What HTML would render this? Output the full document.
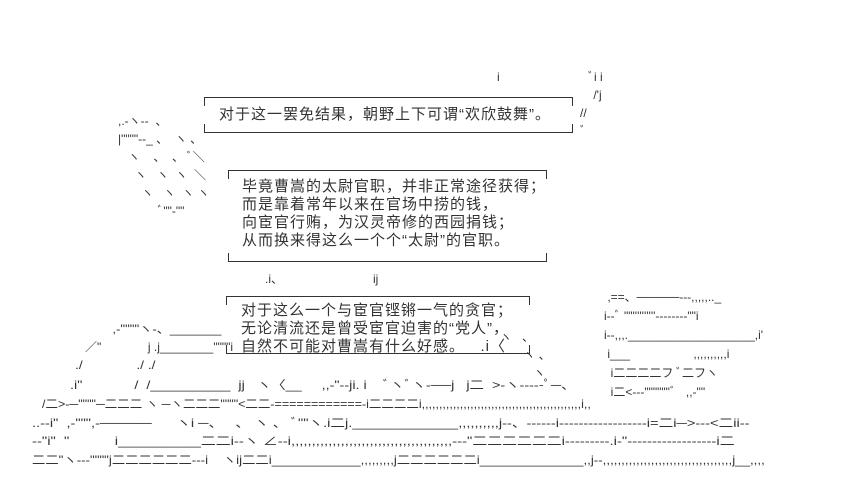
<!DOCTYPE html>
<html><head><meta charset="utf-8"><style>
body{margin:0;width:849px;height:496px;background:#fff;position:relative;overflow:hidden;font-family:"Liberation Sans","WenQuanYi Zen Hei",sans-serif;color:#222}
.b{position:absolute;border-top:1px solid #333;border-bottom:1px solid #333}
.box .tl,.box .tr,.box .bl,.box .br{position:absolute;width:1px;height:8px;background:#333}
.tl{left:0;top:0}.tr{right:0;top:0}.bl{left:0;bottom:0}.br{right:0;bottom:0}
.tx{position:absolute;font-size:15px;line-height:18px;white-space:pre;color:#333;letter-spacing:1px;font-family:"Liberation Sans","WenQuanYi Zen Hei",sans-serif}
.a{position:absolute;font-size:12px;line-height:18px;white-space:pre;color:#333;font-family:"Liberation Sans","Noto Sans CJK JP",sans-serif;transform-origin:0 0}
</style></head><body>
<div class="b box" style="left:204px;top:97px;width:369px;height:34px"><i class="tl"></i><i class="tr"></i><i class="bl"></i><i class="br"></i></div>
<div class="tx" style="left:219px;top:106px">对于这一罢免结果，朝野上下可谓“欢欣鼓舞”。</div>
<div class="b box" style="left:228px;top:170px;width:319px;height:90px"><i class="tl"></i><i class="tr"></i><i class="bl"></i><i class="br"></i></div>
<div class="tx" style="left:242px;top:178px">毕竟曹嵩的太尉官职，并非正常途径获得；
而是靠着常年以来在官场中捞的钱，
向宦官行贿，为汉灵帝修的西园捐钱；
从而换来得这么一个个“太尉”的官职。</div>
<div class="b box" style="left:226px;top:296px;width:304px;height:56px"><i class="tl"></i><i class="tr"></i><i class="bl"></i><i class="br"></i></div>
<div class="tx" style="left:241px;top:302px">对于这么一个与宦官铿锵一气的贪官；
无论清流还是曾受宦官迫害的“党人”，
自然不可能对曹嵩有什么好感。   .i〈</div>
<div class="a" style="left:497px;top:68px">i</div>
<div class="a" style="left:588px;top:68px">ﾞi i</div>
<div class="a" style="left:590px;top:86px"> /'j</div>
<div class="a" style="left:580px;top:104px">//
ﾞ</div>
<div class="a" style="left:118px;top:112px">,.-ヽ--  、
|""""--_ 、  ヽ 、
   ヽ    、  、 ﾞ＼
     ヽ   ヽ  ヽ  ＼
       ヽ   ヽ  ヽ ヽ
            ﾞ""-""</div>
<div class="a" style="left:265px;top:270px">.i、</div>
<div class="a" style="left:373px;top:270px">ij</div>
<div class="a" style="left:500px;top:328px">ヽ   、
       ヽ 、
          ヽ</div>
<div class="a" style="left:105px;top:320px;transform:scaleX(1.1)">  ,-""""ヽ-、_______</div>
<div class="a" style="left:85px;top:338px;transform:scaleX(1.0)">／"              j .j________""""i</div>
<div class="a" style="left:75px;top:356px;transform:scaleX(1.15)">./              ./ ./</div>
<div class="a" style="left:70px;top:376px;transform:scaleX(1.2)">.i"             /  /__________  jj   ヽ〈__     ,,-"--ji. i    ﾞヽﾞヽ-──j   j二  >-ヽ-----ﾟ─、</div>
<div class="a" style="left:42px;top:395px;transform:scaleX(1.04)">/二>-─""""─二二二 ヽ ─ヽ二二二""""<二二-============-i二二二二i,,,,,,,,,,,,,,,,,,,,,,,,,,,,,,,,,,,,,,,,,,,,,,i,,</div>
<div class="a" style="left:32px;top:414px;transform:scaleX(1.22)">..--i"  ,-""",-─────      ヽi ─、   、 ヽ 、 ﾞ""ヽ.i二j._____________,,,,,,,,,,j--、------i------------------i=二i─>---<二ii--</div>
<div class="a" style="left:32px;top:432px;transform:scaleX(1.24)">--"i"  "           i__________二二i--ヽ ∠--i,,,,,,,,,,,,,,,,,,,,,,,,,,,,,,,,,,,,,,,---"二二二二二二i---------.i-"------------------i二</div>
<div class="a" style="left:32px;top:451px;transform:scaleX(1.11)">二二"ヽ---""""j二二二二二二---i    ヽij二二i____________,,,,,,,,,j二二二二二二i______________,,j--,,,,,,,,,,,,,,,,,,,,,,,,,,,,,,,,,,,j__,,,,</div>
<div class="a" style="left:604px;top:288px;line-height:19px"> ,==、─────---,,,,,.._
i--ﾞ ""''''''''''--------""i
i--,,,.___________________,i'
 i___                   ,,,,,,,,,,i
  i二二二二フ ﾞ二フヽ
  i二<---""""""ﾞ   ,,-""</div>
</body></html>
